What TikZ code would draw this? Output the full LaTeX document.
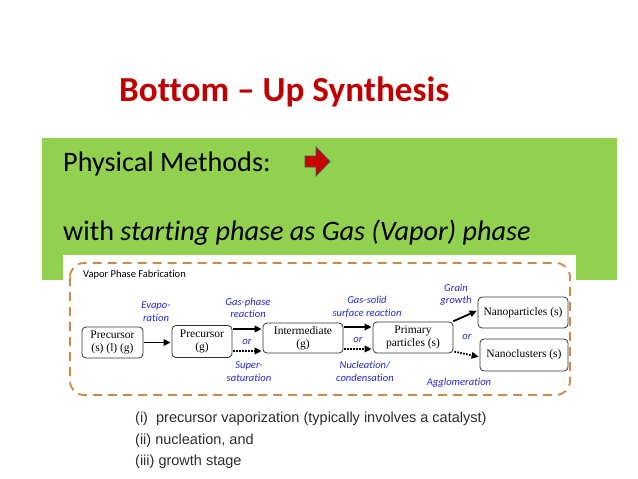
\documentclass[tikz,border=0pt]{standalone}
\usepackage{fontspec}
\setmainfont{Carlito}[Ligatures={TeX,NoCommon}]
\newfontfamily\timesfont{Liberation Serif}
\newfontfamily\arialfont{Liberation Sans}
\usetikzlibrary{arrows.meta}
\definecolor{titlered}{RGB}{192,0,0}
\definecolor{slidegreen}{RGB}{146,208,80}
\definecolor{dashorange}{RGB}{206,136,72}
\definecolor{labelblue}{RGB}{40,40,205}
\definecolor{listgray}{RGB}{45,45,45}
\definecolor{iconred}{RGB}{200,0,0}
\definecolor{iconedge}{RGB}{75,85,105}

\tikzset{
  stage/.style={draw=black!80, rounded corners=4pt, line width=0.8pt, align=center,
    inner sep=0pt, minimum height=31pt, font=\timesfont\fontsize{11.5}{13.5}\selectfont},
  lbl/.style={inner sep=0pt, align=center, text=labelblue,
    font=\itshape\fontsize{10.6}{12.5}\selectfont},
  solidarrow/.style={->, line width=1.8pt, shorten >=1pt, shorten <=1pt},
  dottedarrow/.style={solidarrow, dash pattern=on 1.6pt off 1.4pt},
}

\begin{document}
\begin{tikzpicture}[x=1pt, y=-1pt, >={Triangle[length=7pt,width=6.5pt]}]
        \useasboundingbox (0,0) rectangle (638,479);
        \fill[white] (0,0) rectangle (638,479);

        % Draw the title
        \node[anchor=base west, inner sep=0pt, text=titlered, font=\bfseries\fontsize{35.2}{40}\selectfont] (title) at (119,101) {Bottom – Up Synthesis};

        % Draw the green panel
        \fill[slidegreen] (42,138) rectangle (617,280);
        \node[anchor=base west, inner sep=0pt, font=\fontsize{28.2}{32}\selectfont] (phys) at (63,171.5) {Physical Methods:};
        \node[anchor=base west, inner sep=0pt, font=\fontsize{28.2}{32}\selectfont] (start) at (63,240) {with \textit{starting phase as Gas (Vapor) phase}};

        % Draw the little red arrow
        \filldraw[fill=iconred, draw=iconedge, line width=0.8pt] (305,156) -- (316,156) -- (316,147) -- (330,161.5) -- (316,176) -- (316,167) -- (305,167) -- cycle;

        % Draw the pasted figure
        \fill[white] (63,255) rectangle (576,400);
        \draw[dashorange, line width=1.8pt, rounded corners=14pt, dash pattern=on 9pt off 6pt] (70,263) rectangle (570,395);
        \node[anchor=west, inner sep=0pt, font=\fontsize{10.5}{12}\selectfont] (fab) at (83,275) {Vapor Phase Fabrication};

        % Draw the stages
        \node[stage, minimum width=61pt] (src) at (112.5,342.5) {Precursor\\(s) (l) (g)};
        \node[stage, minimum width=60pt, minimum height=32pt] (gas) at (202,341.5) {Precursor\\(g)};
        \node[stage, minimum width=80pt, minimum height=30pt] (inter) at (303,338) {Intermediate\\(g)};
        \node[stage, minimum width=80pt] (prim) at (413,337.5) {Primary\\particles (s)};
        \node[stage, minimum width=90pt] (nanop) at (523,312.5) {Nanoparticles (s)};
        \node[stage, minimum width=88pt, minimum height=32pt] (nanoc) at (524,355) {Nanoclusters (s)};

        % Connect the stages
        \draw[solidarrow] (src.east) -- (gas.west |- src.east);
        \draw[solidarrow] ([yshift=12.5pt]gas.east) -- ([yshift=9pt]inter.west);
        \draw[dottedarrow] ([yshift=-9.5pt]gas.east) -- ([yshift=-13pt]inter.west);
        \draw[solidarrow] ([yshift=11pt]inter.east) -- ([yshift=10.5pt]prim.west);
        \draw[dottedarrow] ([yshift=-11pt]inter.east) -- ([yshift=-11.5pt]prim.west);
        \draw[solidarrow] ([xshift=-1pt]prim.north east) -- ([yshift=2pt]nanop.west);
        \draw[dottedarrow] ([yshift=2pt]prim.south east) -- ([yshift=-2pt]nanoc.west);

        % Annotate the stages
        \node[lbl] (evap) at (156,311.5) {Evapo-\\ration};
        \node[lbl] (gasrx) at (248,308) {Gas-phase\\reaction};
        \node[lbl] (or1) at (247,341.5) {or};
        \node[lbl] (super) at (249,371.5) {Super-\\saturation};
        \node[lbl] (gsrx) at (367,307) {Gas-solid\\surface reaction};
        \node[lbl] (or2) at (358,340) {or};
        \node[lbl] (nucl) at (365,371.5) {Nucleation/\\condensation};
        \node[lbl] (grain) at (456,295) {Grain\\growth};
        \node[lbl] (or3) at (467,337) {or};
        \node[lbl] (aggl) at (459,383) {Agglomeration};

        % Draw the list of stages
        \node[anchor=north west, inner sep=0pt, align=left, text=listgray, font=\arialfont\fontsize{14.5}{21.5}\selectfont] (steps) at (135,412) {(i)\ \ precursor vaporization (typically involves a catalyst)\\(ii) nucleation, and\\(iii) growth stage};
    \end{tikzpicture}
\end{document}
